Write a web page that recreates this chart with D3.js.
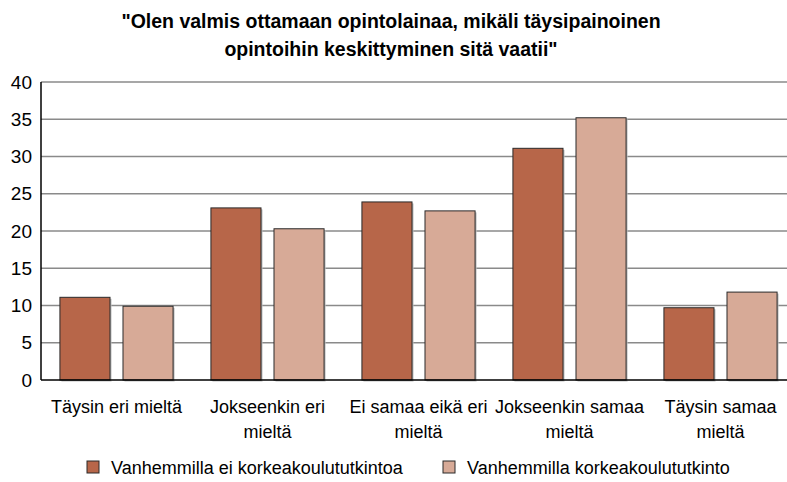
<!DOCTYPE html>
<html>
<head>
<meta charset="utf-8">
<script src="https://cdn.jsdelivr.net/npm/d3@7"></script>
<style>
  body { margin: 0; background: #fff; }
  text { font-family: "Liberation Sans", Arial, sans-serif; fill: #000; }
</style>
</head>
<body>
<svg id="chart" width="787" height="482"></svg>
<script>
const titleLines = ["\"Olen valmis ottamaan opintolainaa, mikäli täysipainoinen", "opintoihin keskittyminen sitä vaatii\""];
const categories = ["Täysin eri mieltä", "Jokseenkin eri\nmieltä", "Ei samaa eikä eri\nmieltä", "Jokseenkin samaa\nmieltä", "Täysin samaa\nmieltä"];
const seriesNames = ["Vanhemmilla ei korkeakoulututkintoa", "Vanhemmilla korkeakoulututkinto"];
const seriesColors = ["#b76649", "#d7aa97"];
const noDegree = [11.1, 23.1, 23.9, 31.1, 9.7];
const degree = [9.9, 20.3, 22.7, 35.2, 11.8];
const yTicks = [0, 5, 10, 15, 20, 25, 30, 35, 40];

const svg = d3.select("#chart");
const plotLeft = 41, plotTop = 82, plotBottom = 380, plotRight = 796;

const x = d3.scaleBand().domain(d3.range(categories.length)).range([plotLeft, plotRight]);
const xInner = d3.scaleBand().domain([0, 1]).range([0, x.bandwidth()]).paddingInner(0.206).paddingOuter(0.3);
const y = d3.scaleLinear().domain([0, 40]).range([plotBottom, plotTop]);

// gridlines
svg.append("g")
    .selectAll("line")
    .data(yTicks.slice(1))
    .join("line")
    .attr("x1", plotLeft).attr("x2", 787)
    .attr("y1", d => y(d)).attr("y2", d => y(d))
    .attr("stroke", "#8a8a8a").attr("stroke-width", 1.5)

// y axis labels
svg.append("g")
    .selectAll("text")
    .data(yTicks)
    .join("text")
    .attr("x", 32).attr("y", d => y(d) + 6.5)
    .attr("text-anchor", "end")
    .attr("font-size", 19)
    .text(d => d)

// bars
const rows = categories.map((c, i) => [noDegree[i], degree[i]]);
const groups = svg.append("g")
    .selectAll("g")
    .data(rows)
    .join("g")
    .attr("transform", (d, i) => `translate(${x(i)},0)`);

groups.selectAll("rect.shadow")
    .data(d => d)
    .join("rect")
    .attr("class", "shadow")
    .attr("x", (d, j) => xInner(j) + 1.5)
    .attr("y", d => y(d) + 1.5)
    .attr("width", xInner.bandwidth())
    .attr("height", d => plotBottom - y(d))
    .attr("fill", "#bdbdbd")

groups.selectAll("rect.bar")
    .data(d => d)
    .join("rect")
    .attr("class", "bar")
    .attr("x", (d, j) => xInner(j))
    .attr("y", d => y(d))
    .attr("width", xInner.bandwidth())
    .attr("height", d => plotBottom - y(d))
    .attr("fill", (d, j) => seriesColors[j])
    .attr("stroke", "#2a2a2a").attr("stroke-width", 1)

// axes lines
svg.append("line").attr("x1", plotLeft).attr("x2", plotLeft).attr("y1", plotTop).attr("y2", plotBottom)
    .attr("stroke", "#000").attr("stroke-width", 1.5)
svg.append("line").attr("x1", plotLeft).attr("x2", 787).attr("y1", plotBottom).attr("y2", plotBottom)
    .attr("stroke", "#000").attr("stroke-width", 1.5)

// category labels
const catLabels = svg.append("g")
    .selectAll("text")
    .data(categories)
    .join("text")
    .attr("text-anchor", "middle")
    .attr("font-size", 18)
    .attr("transform", (d, i) => `translate(${x(i) + x.bandwidth() / 2},${413})`)
catLabels.selectAll("tspan")
    .data(d => d.split("\n"))
    .join("tspan")
    .attr("x", 0)
    .attr("y", (d, k) => k * 25)
    .text(d => d)

// title
svg.append("g")
    .selectAll("text")
    .data(titleLines)
    .join("text")
    .attr("x", 391).attr("y", (d, i) => 28 + i * 28)
    .attr("text-anchor", "middle")
    .attr("font-size", 19.5).attr("font-weight", "bold")
    .text(d => d)

// legend
const legendX = [87, 443];
const legend = svg.append("g")
    .selectAll("g")
    .data(seriesNames)
    .join("g")
    .attr("transform", (d, i) => `translate(${legendX[i]},461)`);
legend.append("rect")
    .attr("width", 12).attr("height", 12)
    .attr("fill", (d, i) => seriesColors[i])
    .attr("stroke", "#2a2a2a").attr("stroke-width", 1)
legend.append("text")
    .attr("x", 24).attr("y", 12.5)
    .attr("font-size", 18)
    .text(d => d)
</script>
</body>
</html>
